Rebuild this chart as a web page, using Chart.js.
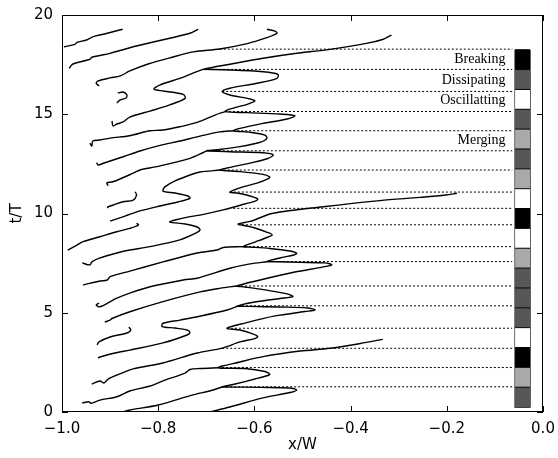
<!DOCTYPE html>
<html>
<head>
<meta charset="utf-8">
<script src="https://cdn.jsdelivr.net/npm/chart.js@4.4.1/dist/chart.umd.min.js"></script>
<style>
  html, body { margin: 0; padding: 0; background: #fff; }
  canvas { display: block; }
</style>
</head>
<body>
<canvas id="frontChart" width="558" height="458"></canvas>
<script>
// axes
var xTicks = [-1.0, -0.8, -0.6, -0.4, -0.2, 0.0];
var tTicks = [0, 5, 10, 15, 20];

// front trajectories, pairs of [x/W, t/T]
var front01 = [[-0.996,18.40],[-0.973,18.52],[-0.969,18.62],[-0.949,18.74],[-0.935,18.91],[-0.914,19.03],[-0.874,19.28]];
var front02 = [[-0.985,17.31],[-0.980,17.48],[-0.973,17.57],[-0.942,17.77],[-0.938,17.87],[-0.900,18.07],[-0.859,18.35],[-0.817,18.60],[-0.776,18.83],[-0.734,19.08],[-0.717,19.28]];
var front03 = [[-0.923,16.42],[-0.929,16.57],[-0.925,16.68],[-0.900,16.83],[-0.879,16.93],[-0.859,17.18],[-0.821,17.53],[-0.773,17.86],[-0.727,18.14],[-0.672,18.29],[-0.615,18.56],[-0.574,18.86],[-0.553,19.08],[-0.557,19.19],[-0.574,19.28]];
var front04 = [[-0.884,16.07],[-0.873,16.12],[-0.865,15.97],[-0.867,15.82],[-0.879,15.72],[-0.886,15.57]];
var front05 = [[-0.896,14.66],[-0.894,14.41],[-0.886,14.51],[-0.873,14.61],[-0.859,14.86],[-0.817,15.16],[-0.776,15.47],[-0.744,15.80],[-0.748,16.00],[-0.789,16.17],[-0.809,16.27],[-0.797,16.47],[-0.755,16.81],[-0.706,17.26],[-0.651,17.52],[-0.582,17.82],[-0.512,18.07],[-0.443,18.27],[-0.367,18.57],[-0.332,18.78],[-0.315,18.99]];
var front06 = [[-0.942,13.55],[-0.938,13.40],[-0.936,13.65],[-0.921,13.70],[-0.900,13.80],[-0.859,13.92],[-0.827,14.12],[-0.817,14.17],[-0.790,14.21],[-0.755,14.37],[-0.719,14.59],[-0.682,14.96],[-0.661,15.13]];
var front07 = [[-0.928,12.56],[-0.925,12.44],[-0.914,12.53],[-0.873,12.86],[-0.838,13.15],[-0.796,13.43],[-0.755,13.65],[-0.713,13.90],[-0.672,14.11],[-0.644,14.17]];
var front08 = [[-0.904,11.40],[-0.907,11.54],[-0.894,11.60],[-0.852,12.03],[-0.838,12.19],[-0.803,12.36],[-0.734,12.78],[-0.707,13.06],[-0.699,13.16]];
var front09 = [[-0.906,10.28],[-0.904,10.34],[-0.893,10.43],[-0.873,10.59],[-0.852,10.68],[-0.845,10.93],[-0.848,11.10]];
var front10 = [[-0.900,9.62],[-0.869,9.87],[-0.838,10.13],[-0.796,10.38],[-0.759,10.58],[-0.734,10.76],[-0.738,10.88],[-0.765,11.03],[-0.790,11.13],[-0.786,11.34],[-0.765,11.64],[-0.728,11.99],[-0.713,12.09],[-0.672,12.19]];
var front11 = [[-0.988,8.16],[-0.969,8.41],[-0.956,8.58],[-0.921,8.83],[-0.886,9.08],[-0.859,9.25],[-0.841,9.42],[-0.845,9.51]];
var front12 = [[-0.958,7.51],[-0.942,7.41],[-0.938,7.56],[-0.921,7.76],[-0.886,8.01],[-0.859,8.16],[-0.817,8.33],[-0.755,8.67],[-0.721,9.02],[-0.713,9.17],[-0.719,9.32],[-0.744,9.47],[-0.776,9.57],[-0.765,9.67],[-0.734,9.84],[-0.713,9.92],[-0.665,10.18],[-0.620,10.48],[-0.597,10.64],[-0.593,10.73],[-0.609,10.88],[-0.636,11.03],[-0.651,11.08],
  [-0.624,11.34],[-0.593,11.54],[-0.572,11.74],[-0.568,11.84],[-0.582,11.97],[-0.630,12.11],[-0.672,12.19],
  [-0.657,12.29],[-0.609,12.54],[-0.572,12.77],[-0.561,12.95],[-0.582,13.06],[-0.651,13.11],[-0.699,13.16],
  [-0.678,13.21],[-0.630,13.37],[-0.588,13.59],[-0.574,13.79],[-0.578,13.95],[-0.609,14.09],[-0.644,14.17],
  [-0.630,14.29],[-0.582,14.54],[-0.532,14.76],[-0.516,14.93],[-0.547,15.01],[-0.615,15.08],[-0.661,15.13],
  [-0.651,15.26],[-0.615,15.50],[-0.599,15.67],[-0.609,15.77],[-0.651,15.97],[-0.667,16.14],
  [-0.651,16.31],[-0.595,16.56],[-0.553,16.81],[-0.551,17.01],[-0.582,17.14],[-0.651,17.23],[-0.707,17.26]];
var front13 = [[-0.956,6.40],[-0.921,6.60],[-0.906,6.65],[-0.900,6.82],[-0.859,7.10],[-0.790,7.56],[-0.719,8.01],[-0.678,8.16],[-0.665,8.29],[-0.624,8.33]];
var front14 = [[-0.923,5.49],[-0.929,5.39],[-0.921,5.30],[-0.894,5.64],[-0.886,5.74],[-0.859,5.99],[-0.817,6.31],[-0.748,6.65],[-0.719,6.74],[-0.651,7.24],[-0.609,7.46],[-0.574,7.57]];
var front15 = [[-0.911,4.53],[-0.900,4.63],[-0.896,4.71],[-0.859,5.05],[-0.790,5.56],[-0.713,6.05],[-0.672,6.23],[-0.636,6.35]];
var front16 = [[-0.927,3.38],[-0.923,3.53],[-0.900,3.78],[-0.865,3.98],[-0.857,4.13],[-0.861,4.28]];
var front17 = [[-0.925,2.72],[-0.921,2.77],[-0.890,2.97],[-0.859,3.12],[-0.790,3.48],[-0.740,3.88],[-0.734,4.00],[-0.740,4.13],[-0.765,4.23],[-0.792,4.30],[-0.790,4.47],[-0.755,4.63],[-0.719,4.80],[-0.657,5.14],[-0.634,5.34]];
var front18 = [[-0.938,1.41],[-0.921,1.56],[-0.913,1.46],[-0.904,1.66],[-0.886,1.86],[-0.852,2.17],[-0.790,2.47],[-0.719,2.97],[-0.667,3.22],
  [-0.630,3.53],[-0.599,3.70],[-0.593,3.80],[-0.605,3.95],[-0.630,4.13],[-0.657,4.22],
  [-0.620,4.48],[-0.557,4.84],[-0.495,5.06],[-0.474,5.14],[-0.489,5.24],[-0.547,5.29],[-0.609,5.32],[-0.634,5.34],
  [-0.599,5.54],[-0.547,5.72],[-0.520,5.81],[-0.530,5.94],[-0.578,6.15],[-0.620,6.30],[-0.636,6.35],
  [-0.588,6.65],[-0.516,7.05],[-0.459,7.30],[-0.439,7.41],[-0.453,7.51],[-0.505,7.54],[-0.557,7.57],[-0.574,7.58],
  [-0.547,7.76],[-0.518,7.91],[-0.512,7.99],[-0.526,8.11],[-0.568,8.24],[-0.609,8.31],[-0.624,8.33],
  [-0.599,8.56],[-0.574,8.79],[-0.563,8.92],[-0.572,9.04],[-0.599,9.27],[-0.626,9.42],[-0.634,9.47],
  [-0.609,9.60],[-0.561,10.01],[-0.457,10.34],[-0.339,10.65],[-0.256,10.81],[-0.202,10.93],[-0.179,11.02]];
var front19 = [[-0.958,0.45],[-0.944,0.52],[-0.940,0.44],[-0.921,0.60],[-0.886,0.77],[-0.859,1.06],[-0.817,1.31],[-0.786,1.61],[-0.744,1.96],[-0.734,2.14],[-0.713,2.19],[-0.676,2.23]];
var front20 = [[-0.875,0.00],[-0.859,0.10],[-0.800,0.35],[-0.728,0.86],[-0.693,1.06],[-0.667,1.26]];
var front21 = [[-0.693,0.00],[-0.651,0.25],[-0.582,0.71],[-0.526,0.98],[-0.512,1.11],[-0.526,1.21],[-0.588,1.24],[-0.657,1.26],[-0.667,1.26],
  [-0.640,1.41],[-0.599,1.66],[-0.572,1.84],[-0.568,1.91],[-0.578,2.04],[-0.620,2.19],[-0.676,2.23],
  [-0.630,2.52],[-0.582,2.79],[-0.505,3.07],[-0.443,3.21],[-0.380,3.45],[-0.333,3.66]];

var fronts = [front01, front02, front03, front04, front05, front06, front07, front08, front09, front10, front11,
              front12, front13, front14, front15, front16, front17, front18, front19, front20, front21];

// dotted guides: time of each turning point and where the guide starts
var turnT = [1.27, 2.24, 3.21, 4.22, 5.35, 6.35, 7.58, 8.33, 9.43, 10.26, 11.08, 12.19, 13.16, 14.17, 15.14, 16.15, 17.26, 18.28];
var turnX = [-0.667, -0.676, -0.667, -0.657, -0.634, -0.636, -0.574, -0.628, -0.634, -0.644, -0.651, -0.672, -0.699, -0.644, -0.661, -0.667, -0.707, -0.672];
var guideEndX = -0.064;

// state strip, one cell per period, bottom to top
var stateEdges = [0.25, 1.25, 2.25, 3.25, 4.25, 5.25, 6.25, 7.25, 8.25, 9.25, 10.25, 11.25, 12.25, 13.25, 14.25, 15.25, 16.25, 17.25, 18.25];
var stateKind = ['Dissipating', 'Merging', 'Breaking', 'Oscillatting', 'Dissipating', 'Dissipating', 'Dissipating', 'Merging', 'Oscillatting',
                 'Breaking', 'Oscillatting', 'Merging', 'Dissipating', 'Merging', 'Dissipating', 'Oscillatting', 'Dissipating', 'Breaking'];

var labelText = ['Breaking', 'Dissipating', 'Oscillatting', 'Merging'];
var labelT = [17.76, 16.72, 15.72, 13.70];

var stateColor = { 'Breaking': '#000000', 'Dissipating': '#575757', 'Oscillatting': '#ffffff', 'Merging': '#a9a9a9' };
var STRIP_X0 = -0.058, STRIP_X1 = -0.027, LABEL_X = -0.078;

function toPoints(arr) {
    return arr.map(function (p) { return { x: p[0], y: p[1] }; });
}

var datasets = [];

turnT.forEach(function (t, i) {
    datasets.push({
        data: [{ x: turnX[i], y: t }, { x: guideEndX, y: t }],
        showLine: true, borderColor: '#000', borderWidth: 1, borderDash: [2, 2],
        pointRadius: 0, order: 3
    });
});

stateKind.forEach(function (kind, i) {
    datasets.push({
        data: [{ x: STRIP_X0, y: stateEdges[i + 1] }, { x: STRIP_X1, y: stateEdges[i + 1] }],
        showLine: true, borderColor: '#000', borderWidth: 1,
        backgroundColor: stateColor[kind], fill: { value: stateEdges[i] },
        pointRadius: 0, order: 2
    });
});

var lastEdge = stateEdges[stateEdges.length - 1];
datasets.push({
    data: [{ x: STRIP_X0, y: lastEdge }, { x: STRIP_X0, y: stateEdges[0] }, { x: STRIP_X1, y: stateEdges[0] }, { x: STRIP_X1, y: lastEdge }],
    showLine: true, borderColor: '#000', borderWidth: 1.2, pointRadius: 0, order: 2
});

fronts.forEach(function (f) {
    datasets.push({
        data: toPoints(f),
        showLine: true, borderColor: '#000', borderWidth: 1.4,
        pointRadius: 0, tension: 0.3, fill: false, order: 1
    });
});

var framePlugin = {
    id: 'frame',
    afterDraw: function (chart) {
        var c = chart.ctx, a = chart.chartArea, sx = chart.scales.x, sy = chart.scales.y;
        c.save();
        c.strokeStyle = '#000';
        c.lineWidth = 1;
        c.strokeRect(a.left + 0.5, a.top + 0.5, a.right - a.left - 1, a.bottom - a.top - 1);

        // inward ticks on all four sides
        c.beginPath();
        xTicks.forEach(function (v) {
            var px = Math.round(sx.getPixelForValue(v)) + 0.5;
            c.moveTo(px, a.bottom); c.lineTo(px, a.bottom - 6);
            c.moveTo(px, a.top); c.lineTo(px, a.top + 6);
        });
        tTicks.forEach(function (v) {
            var py = Math.round(sy.getPixelForValue(v)) + 0.5;
            c.moveTo(a.left, py); c.lineTo(a.left + 6, py);
            c.moveTo(a.right, py); c.lineTo(a.right - 6, py);
        });
        c.stroke();

        // state names beside the strip
        c.fillStyle = '#000';
        c.font = '14px "Liberation Serif"';
        c.textAlign = 'right';
        c.textBaseline = 'middle';
        labelText.forEach(function (txt, i) {
            c.fillText(txt, sx.getPixelForValue(LABEL_X), sy.getPixelForValue(labelT[i]));
        });

        // axis titles
        c.font = '15px "DejaVu Sans"';
        c.textAlign = 'center';
        c.fillText('x/W', (a.left + a.right) / 2, 445);
        c.translate(17, (a.top + a.bottom) / 2);
        c.rotate(-Math.PI / 2);
        c.fillText('t/T', 0, 0);
        c.restore();
    }
};

new Chart(document.getElementById('frontChart').getContext('2d'), {
    type: 'scatter',
    data: { datasets: datasets },
    options: {
        responsive: false,
        animation: false,
        events: [],
        layout: { padding: { left: 0, right: 15, top: 15, bottom: 0 } },
        plugins: { legend: { display: false }, tooltip: { enabled: false } },
        scales: {
            x: {
                type: 'linear', min: -1, max: 0,
                afterFit: function (s) { s.height = 46; s.paddingLeft = 0; s.paddingRight = 0; },
                ticks: {
                    stepSize: 0.2, padding: 8, color: '#000', maxRotation: 0, autoSkip: false,
                    font: { family: 'DejaVu Sans', size: 15 },
                    callback: function (v) { return (v < -1e-9 ? '\u2212' : '') + Math.abs(v).toFixed(1); }
                },
                grid: { display: false, drawTicks: false },
                border: { display: false }
            },
            y: {
                type: 'linear', min: 0, max: 20,
                afterFit: function (s) { s.width = 62; s.paddingTop = 0; s.paddingBottom = 0; },
                ticks: {
                    stepSize: 5, padding: 9, color: '#000',
                    font: { family: 'DejaVu Sans', size: 15 }
                },
                grid: { display: false, drawTicks: false },
                border: { display: false }
            }
        }
    },
    plugins: [framePlugin]
});
</script>
</body>
</html>
